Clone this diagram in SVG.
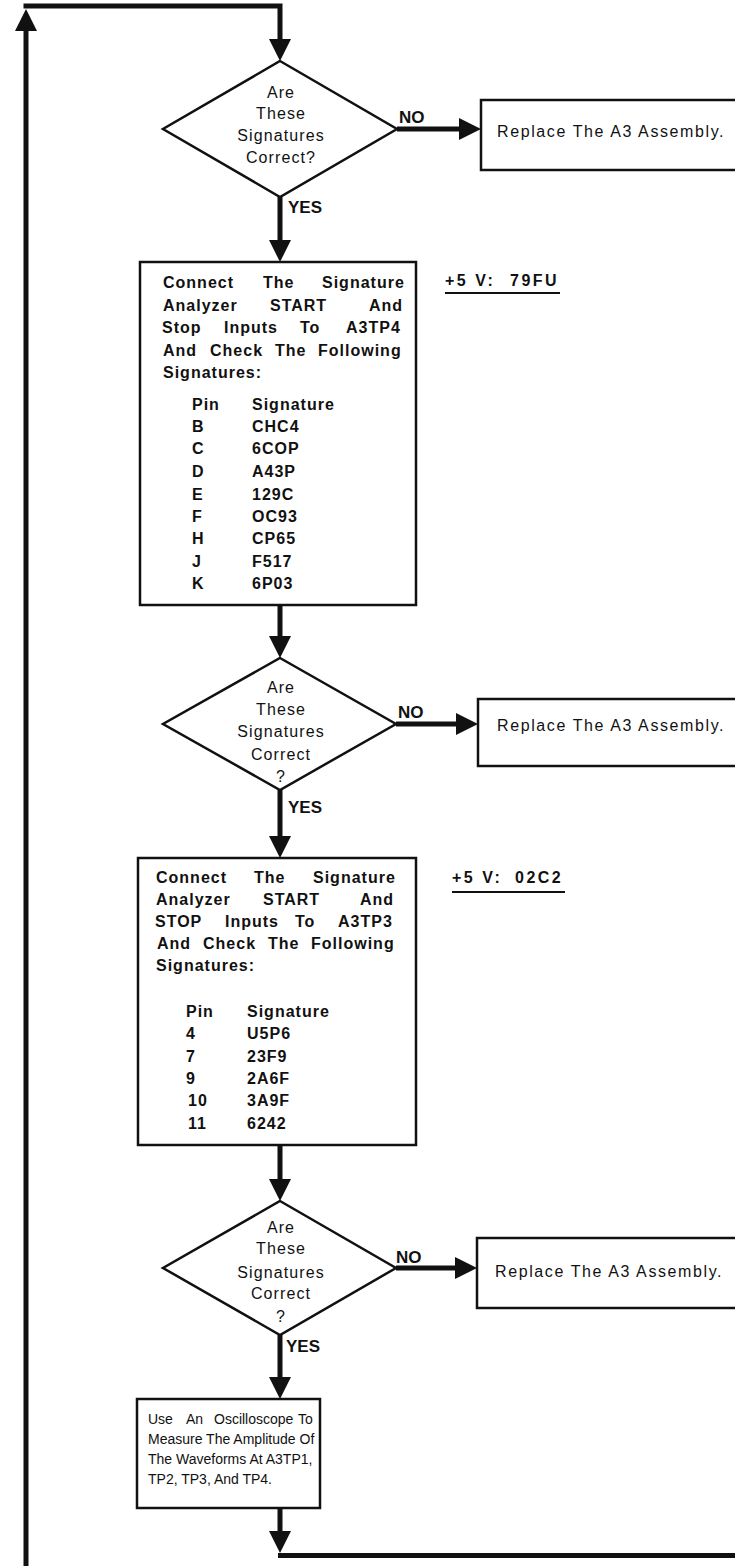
<svg xmlns="http://www.w3.org/2000/svg" width="735" height="1566" viewBox="0 0 735 1566">
<defs>
<style>
.conn{fill:none;stroke:#111;stroke-width:5;stroke-linejoin:miter}
.shape{fill:#fff;stroke:#111;stroke-width:2.5}
.t{font-family:"Liberation Sans",Arial,sans-serif;fill:#111}
.dt{font-size:16px;letter-spacing:1.1px;text-anchor:middle}
.bt{font-size:16px;font-weight:bold;letter-spacing:1px}
.rt{font-size:16px;letter-spacing:1.6px}
.lab{font-size:17px;font-weight:bold}
.st{font-size:16px;font-weight:bold;letter-spacing:2.5px}
.ot{font-size:14px}
.ul{stroke:#111;stroke-width:2;fill:none}
</style>
<marker id="ah" viewBox="0 0 22 22" refX="2" refY="11" markerWidth="22" markerHeight="22" markerUnits="userSpaceOnUse" orient="auto"><path d="M0,0 L22,11 L0,22 z" fill="#111"/></marker>
</defs>
<rect x="0" y="0" width="735" height="1566" fill="#fff"/>

<g id="connectors" class="conn">
<path d="M26,1566 V29" marker-end="url(#ah)"/>
<path d="M23.5,6 H280 V41" marker-end="url(#ah)"/>
<path d="M397,129 H461" marker-end="url(#ah)"/>
<path d="M280,197 V242" marker-end="url(#ah)"/>
<path d="M280,605 V638" marker-end="url(#ah)"/>
<path d="M396,724 H458" marker-end="url(#ah)"/>
<path d="M280,790 V838" marker-end="url(#ah)"/>
<path d="M280,1145 V1181" marker-end="url(#ah)"/>
<path d="M396,1268 H457" marker-end="url(#ah)"/>
<path d="M280,1335 V1379" marker-end="url(#ah)"/>
<path d="M280,1508 V1533" marker-end="url(#ah)"/>
<path d="M278,1555.5 H735"/>
</g>

<g id="decision1">
<polygon class="shape" points="280,61 397,129 280,197 163,129"/>
<text class="t dt" x="281" y="98">Are</text>
<text class="t dt" x="281" y="119">These</text>
<text class="t dt" x="281" y="141">Signatures</text>
<text class="t dt" x="281" y="163">Correct?</text>
<text class="t lab" x="399" y="123">NO</text>
<text class="t lab" x="288" y="213">YES</text>
</g>

<g id="replace1">
<rect class="shape" x="481" y="100" width="260" height="70"/>
<text class="t rt" x="497" y="137">Replace The A3 Assembly.</text>
</g>

<g id="box1">
<rect class="shape" x="140" y="262" width="276" height="343"/>
<text class="t bt" y="288"><tspan x="163">Connect</tspan> <tspan x="263">The</tspan> <tspan x="322">Signature</tspan></text>
<text class="t bt" y="311"><tspan x="163">Analyzer</tspan> <tspan x="270">START</tspan> <tspan x="369">And</tspan></text>
<text class="t bt" y="333"><tspan x="162">Stop</tspan> <tspan x="224">Inputs</tspan> <tspan x="300">To</tspan> <tspan x="346">A3TP4</tspan></text>
<text class="t bt" y="356"><tspan x="163">And</tspan> <tspan x="210">Check</tspan> <tspan x="275">The</tspan> <tspan x="318">Following</tspan></text>
<text class="t bt" x="163" y="378">Signatures:</text>
<text class="t bt" y="410"><tspan x="192">Pin</tspan> <tspan x="252">Signature</tspan></text>
<text class="t bt" y="432"><tspan x="192">B</tspan> <tspan x="252">CHC4</tspan></text>
<text class="t bt" y="454"><tspan x="192">C</tspan> <tspan x="252">6COP</tspan></text>
<text class="t bt" y="477"><tspan x="192">D</tspan> <tspan x="252">A43P</tspan></text>
<text class="t bt" y="500"><tspan x="192">E</tspan> <tspan x="252">129C</tspan></text>
<text class="t bt" y="522"><tspan x="192">F</tspan> <tspan x="252">OC93</tspan></text>
<text class="t bt" y="544"><tspan x="192">H</tspan> <tspan x="252">CP65</tspan></text>
<text class="t bt" y="567"><tspan x="192">J</tspan> <tspan x="252">F517</tspan></text>
<text class="t bt" y="589"><tspan x="192">K</tspan> <tspan x="252">6P03</tspan></text>
</g>

<g id="note1">
<text class="t st" x="445" y="286">+5 V: <tspan x="510">79FU</tspan></text>
<line class="ul" x1="445" y1="293" x2="560" y2="293"/>
</g>

<g id="decision2">
<polygon class="shape" points="280,658 396,724 280,790 163,724"/>
<text class="t dt" x="281" y="693">Are</text>
<text class="t dt" x="281" y="715">These</text>
<text class="t dt" x="281" y="737">Signatures</text>
<text class="t dt" x="281" y="760">Correct</text>
<text class="t dt" x="281" y="782">?</text>
<text class="t lab" x="398" y="718">NO</text>
<text class="t lab" x="288" y="813">YES</text>
</g>

<g id="replace2">
<rect class="shape" x="478" y="699" width="263" height="67"/>
<text class="t rt" x="497" y="731">Replace The A3 Assembly.</text>
</g>

<g id="box2">
<rect class="shape" x="138" y="858" width="278" height="287"/>
<text class="t bt" y="883"><tspan x="156">Connect</tspan> <tspan x="254">The</tspan> <tspan x="313">Signature</tspan></text>
<text class="t bt" y="905"><tspan x="156">Analyzer</tspan> <tspan x="263">START</tspan> <tspan x="360">And</tspan></text>
<text class="t bt" y="927"><tspan x="155">STOP</tspan> <tspan x="225">Inputs</tspan> <tspan x="295">To</tspan> <tspan x="338">A3TP3</tspan></text>
<text class="t bt" y="949"><tspan x="157">And</tspan> <tspan x="203">Check</tspan> <tspan x="268">The</tspan> <tspan x="311">Following</tspan></text>
<text class="t bt" x="156" y="971">Signatures:</text>
<text class="t bt" y="1017"><tspan x="186">Pin</tspan> <tspan x="247">Signature</tspan></text>
<text class="t bt" y="1039"><tspan x="186">4</tspan> <tspan x="247">U5P6</tspan></text>
<text class="t bt" y="1062"><tspan x="186">7</tspan> <tspan x="247">23F9</tspan></text>
<text class="t bt" y="1084"><tspan x="186">9</tspan> <tspan x="247">2A6F</tspan></text>
<text class="t bt" y="1106"><tspan x="188">10</tspan> <tspan x="247">3A9F</tspan></text>
<text class="t bt" y="1129"><tspan x="188">11</tspan> <tspan x="247">6242</tspan></text>
</g>

<g id="note2">
<text class="t st" x="452" y="883">+5 V: <tspan x="515">02C2</tspan></text>
<line class="ul" x1="452" y1="892" x2="565" y2="892"/>
</g>

<g id="decision3">
<polygon class="shape" points="280,1201 396,1268 280,1335 163,1268"/>
<text class="t dt" x="281" y="1233">Are</text>
<text class="t dt" x="281" y="1254">These</text>
<text class="t dt" x="281" y="1278">Signatures</text>
<text class="t dt" x="281" y="1299">Correct</text>
<text class="t dt" x="281" y="1322">?</text>
<text class="t lab" x="396" y="1263">NO</text>
<text class="t lab" x="286" y="1352">YES</text>
</g>

<g id="replace3">
<rect class="shape" x="477" y="1238" width="264" height="70"/>
<text class="t rt" x="495" y="1277">Replace The A3 Assembly.</text>
</g>

<g id="box4">
<rect class="shape" x="137" y="1399" width="183" height="109"/>
<text class="t ot" y="1424"><tspan x="148">Use</tspan> <tspan x="186">An</tspan> <tspan x="214">Oscilloscope</tspan> <tspan x="298">To</tspan></text>
<text class="t ot" x="148" y="1444">Measure The Amplitude Of</text>
<text class="t ot" x="148" y="1464">The Waveforms At A3TP1,</text>
<text class="t ot" x="148" y="1484">TP2, TP3, And TP4.</text>
</g>
</svg>
